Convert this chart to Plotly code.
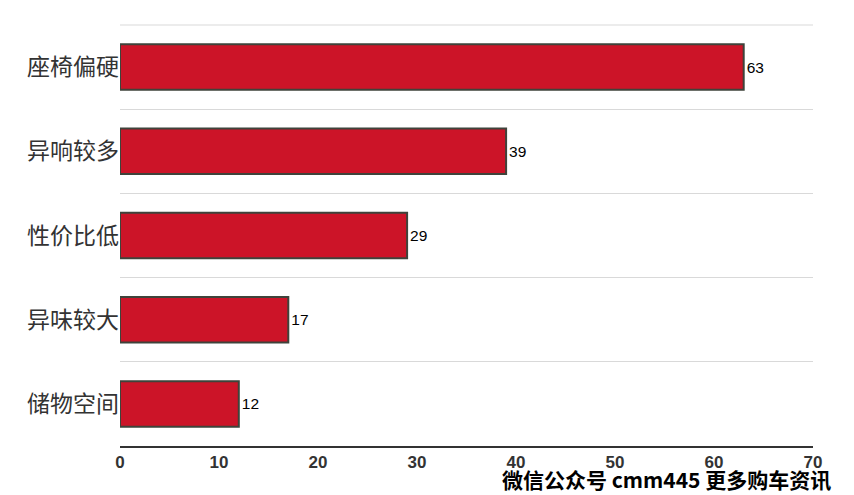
import plotly.graph_objects as go

categories = ["座椅偏硬", "异响较多", "性价比低", "异味较大", "储物空间"]
values = [63, 39, 29, 17, 12]
x_ticks = [0, 10, 20, 30, 40, 50, 60, 70]

# page body has an 8px default margin, so the figure is sized/offset to compensate
fig = go.Figure()
fig.add_trace(go.Bar(
    y=categories, x=values, orientation="h",
    marker=dict(color="#CC1428", line=dict(color="#3f433b", width=2)),
    text=[str(v) for v in values], textposition="outside",
    textfont=dict(family="Liberation Sans, Arial", size=15.5, color="#000"),
    cliponaxis=False,
))
fig.update_layout(
    width=846, height=487,
    margin=dict(l=112, r=41, t=17, b=49, autoexpand=False),
    paper_bgcolor="white", plot_bgcolor="white",
    bargap=0.46, showlegend=False,
    xaxis=dict(range=[0, 70], tickvals=x_ticks, showgrid=False, automargin=False,
               showline=True, linecolor="#333", linewidth=2, zeroline=False,
               ticks="", tickfont=dict(family="Liberation Sans, Arial", size=17, color="#333", weight="bold")),
    yaxis=dict(categoryorder="array", categoryarray=categories[::-1], automargin=False,
               tickson="boundaries", showgrid=True, gridcolor="#d9d9d9", gridwidth=1,
               ticks="", ticklen=0, showline=False,
               tickfont=dict(family="Noto Sans CJK SC", size=23, color="#333")),
    shapes=[dict(type="line", xref="paper", yref="paper", x0=0, x1=1, y0=1, y1=1,
                 line=dict(color="#d9d9d9", width=1))],
    annotations=[dict(text="<b>微信公众号 cmm445 更多购车资讯</b>", showarrow=False,
                      xref="paper", yref="paper", x=(833 - 120) / 693, y=(446 - 479) / 421,
                      xanchor="right", yanchor="middle",
                      font=dict(family="Noto Sans CJK SC, Liberation Sans", size=21, color="#000"))],
)
fig.write_html("out.html")
